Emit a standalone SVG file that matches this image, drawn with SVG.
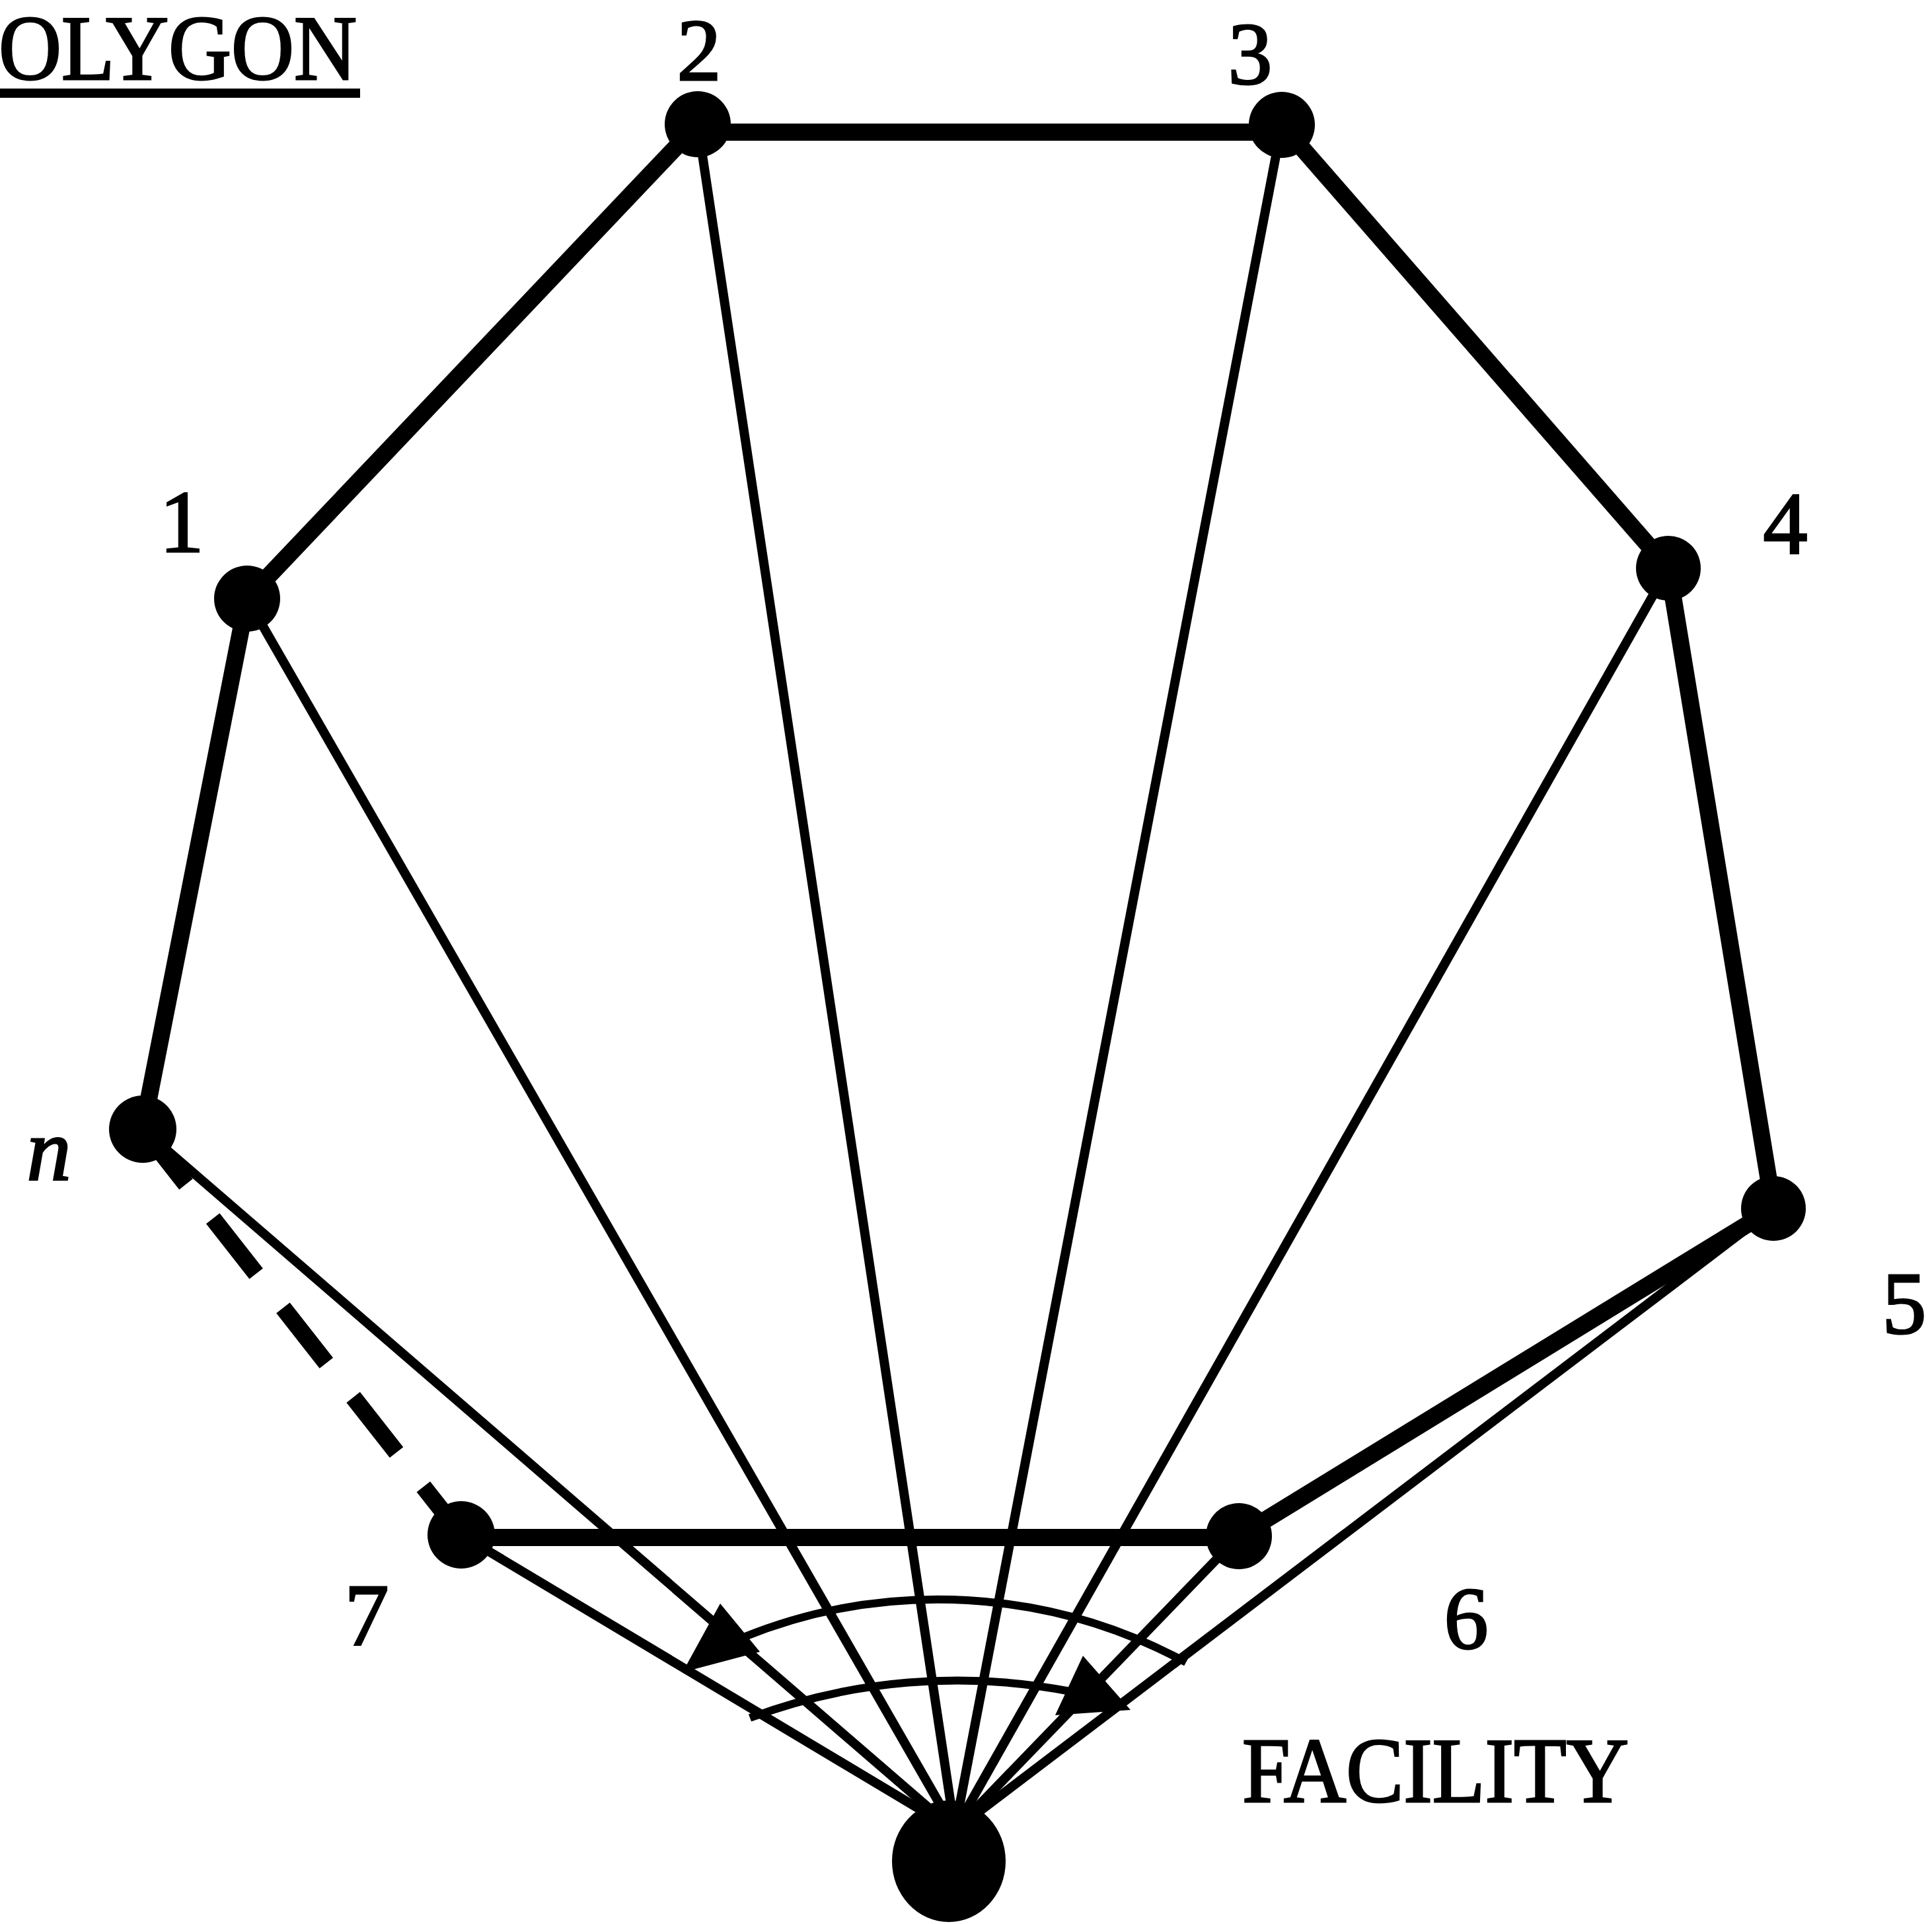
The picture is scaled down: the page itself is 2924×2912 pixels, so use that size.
<svg xmlns="http://www.w3.org/2000/svg" width="2924" height="2912" viewBox="0 0 2924 2912">
<style>
.thick{stroke:#000;stroke-width:26;fill:none;stroke-linecap:butt}
.thin{stroke:#000;stroke-width:14;fill:none}
.dash{stroke:#000;stroke-width:26;fill:none;stroke-dasharray:106 66}
.arc{stroke:#000;stroke-width:12;fill:none}
.node{fill:#000}
.lbl{font-family:"Liberation Serif","Times New Roman",serif;font-size:134px;fill:#000;stroke:#000;stroke-width:3;text-anchor:middle}
.title{font-family:"Liberation Serif","Times New Roman",serif;font-size:140px;fill:#000;stroke:#000;stroke-width:3}
</style>
<rect width="2924" height="2912" fill="#fff"/>
<g id="connectors">
  <line class="thin" x1="374" y1="906" x2="1445" y2="2770"/>
  <line class="thin" x1="1056" y1="188" x2="1445" y2="2770"/>
  <line class="thin" x1="1940" y1="189" x2="1445" y2="2770"/>
  <line class="thin" x1="2525" y1="860" x2="1445" y2="2770"/>
  <line class="thin" x1="2684" y1="1829" x2="1445" y2="2770"/>
  <line class="thin" x1="1875" y1="2325" x2="1445" y2="2770"/>
  <line class="thin" x1="698" y1="2323" x2="1445" y2="2770"/>
  <line class="thin" x1="216" y1="1709" x2="1445" y2="2770"/>
  <line class="thick" x1="216" y1="1709" x2="374" y2="906"/>
  <line class="thick" x1="374" y1="906" x2="1056" y2="188"/>
  <line class="thick" x1="1056" y1="200" x2="1940" y2="200"/>
  <line class="thick" x1="1940" y1="189" x2="2525" y2="860"/>
  <line class="thick" x1="2525" y1="860" x2="2684" y2="1829"/>
  <line class="thick" x1="2684" y1="1829" x2="1875" y2="2325"/>
  <line class="thick" x1="698" y1="2327" x2="1875" y2="2327"/>
  <line class="dash" x1="216" y1="1709" x2="698" y2="2323"/>
  <path class="arc" d="M1795 2516 A787 787 0 0 0 1125 2478"/>
  <path class="arc" d="M1135 2600 A900 900 0 0 1 1620 2560"/>
  <polygon class="node" points="1090,2427 1033,2531 1150,2500"/>
  <polygon class="node" points="1639,2506 1597,2596 1711,2588"/>
</g>
<g id="node-1"><circle class="node" cx="374" cy="906" r="50"/><text class="lbl" x="275" y="835">1</text></g>
<g id="node-2"><circle class="node" cx="1056" cy="188" r="50"/><text class="lbl" x="1058" y="121">2</text></g>
<g id="node-3"><circle class="node" cx="1940" cy="189" r="50"/><text class="lbl" x="1892" y="127">3</text></g>
<g id="node-4"><circle class="node" cx="2525" cy="860" r="49"/><text class="lbl" x="2702" y="837">4</text></g>
<g id="node-5"><circle class="node" cx="2684" cy="1829" r="49"/><text class="lbl" x="2882" y="2018">5</text></g>
<g id="node-6"><circle class="node" cx="1875" cy="2325" r="50"/><text class="lbl" x="2219" y="2495">6</text></g>
<g id="node-7"><circle class="node" cx="698" cy="2323" r="51"/><text class="lbl" x="555" y="2490">7</text></g>
<g id="node-n"><circle class="node" cx="216" cy="1709" r="51"/><text class="lbl" x="74" y="1785" font-style="italic" font-size="148">n</text></g>
<g id="facility"><ellipse class="node" cx="1436" cy="2817" rx="86" ry="92"/><text class="title" x="1880" y="2727" textLength="585" lengthAdjust="spacingAndGlyphs">FACILITY</text></g>
<g id="title"><text class="title" x="-2" y="120" textLength="542" lengthAdjust="spacingAndGlyphs">OLYGON</text><rect x="0" y="134" width="545" height="14" fill="#000"/></g>
</svg>
